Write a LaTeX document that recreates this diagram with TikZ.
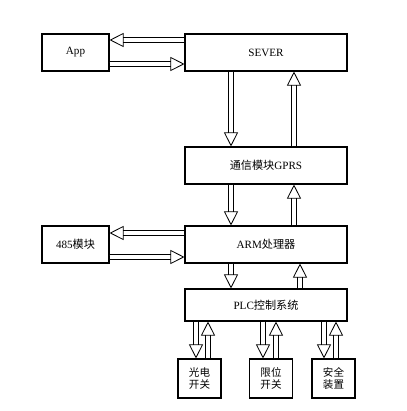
\documentclass[tikz,border=0pt]{standalone}
\usepackage{fontspec}
\setmainfont{Liberation Serif}
\newfontfamily\cjk{Noto Sans CJK SC}
\usetikzlibrary{positioning, arrows.meta, calc}

\begin{document}
\begin{tikzpicture}[
    x=0.03cm, y=-0.03cm,
    font=\fontsize{9.5}{11}\selectfont,
    blockbox/.style={rectangle, draw, line width=0.9pt, minimum width=162*0.03cm, minimum height=37*0.03cm, inner sep=1pt},
    sidebox/.style={rectangle, draw, line width=0.9pt, minimum width=67*0.03cm, minimum height=37*0.03cm, inner sep=1pt},
    leafbox/.style={rectangle, draw, line width=0.9pt, minimum width=43*0.03cm, minimum height=39*0.03cm, inner sep=1pt, align=center, font=\cjk\fontsize{9}{11}\selectfont},
    dblarrow/.style={draw, line width=0.7pt, double distance=3.2pt, -{Triangle[open, length=12pt, width=12pt]}}
]
    \useasboundingbox (0,0) rectangle (406,411);

    % main column
    \node[blockbox] (sever) at (266,52.5) {SEVER};
    \node[blockbox] (gprs) at (266,165.5) {{\cjk 通信模块}GPRS};
    \node[blockbox] (arm) at (266,244.5) {ARM{\cjk 处理器}};
    \node[blockbox, minimum height=32*0.03cm] (plc) at (266,305) {PLC{\cjk 控制系统}};

    % side boxes
    \node[sidebox] (app) at (75.5,52.5) {App};
    \node[sidebox] (rs485) at (75.5,244.5) {485{\cjk 模块}};

    % field devices
    \node[leafbox] (photo) at (199.5,378.5) {光电\\开关};
    \node[leafbox] (limit) at (271,378.5) {限位\\开关};
    \node[leafbox] (safety) at (333.5,378.5) {安全\\装置};

    % App <-> SEVER
    \draw[dblarrow] (sever.west |- 0,40) -- (app.east |- 0,40);
    \draw[dblarrow] (app.east |- 0,64) -- (sever.west |- 0,64);

    % SEVER <-> GPRS <-> ARM <-> PLC
    \draw[dblarrow] (sever.south -| 231,0) -- (gprs.north -| 231,0);
    \draw[dblarrow] (gprs.north -| 294,0) -- (sever.south -| 294,0);
    \draw[dblarrow] (gprs.south -| 231,0) -- (arm.north -| 231,0);
    \draw[dblarrow] (arm.north -| 294,0) -- (gprs.south -| 294,0);
    \draw[dblarrow] (arm.south -| 231,0) -- (plc.north -| 231,0);
    \draw[dblarrow] (plc.north -| 300,0) -- (arm.south -| 300,0);

    % 485 <-> ARM
    \draw[dblarrow] (arm.west |- 0,233) -- (rs485.east |- 0,233);
    \draw[dblarrow] (rs485.east |- 0,257) -- (arm.west |- 0,257);

    % PLC <-> devices
    \foreach \dev/\dx/\ux in {photo/196/208, limit/263/276, safety/324/336} {
        \draw[dblarrow] (plc.south -| \dx,0) -- (\dev.north -| \dx,0);
        \draw[dblarrow] (\dev.north -| \ux,0) -- (plc.south -| \ux,0);
    }
\end{tikzpicture}
\end{document}
